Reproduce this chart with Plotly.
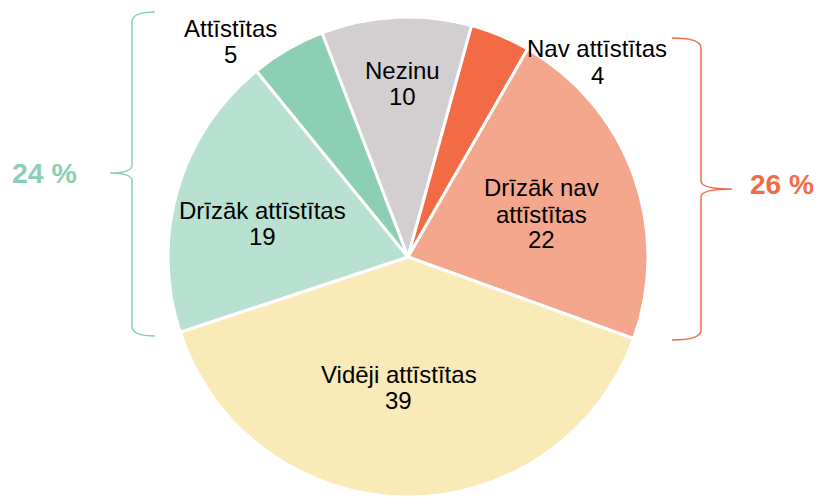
import plotly.graph_objects as go

categories = ["Nezinu", "Nav attīstītas", "Drīzāk nav attīstītas", "Vidēji attīstītas",
              "Drīzāk attīstītas", "Attīstītas"]
label_lines = [["Nezinu"], ["Nav attīstītas"], ["Drīzāk nav", "attīstītas"], ["Vidēji attīstītas"],
               ["Drīzāk attīstītas"], ["Attīstītas"]]
values = [10, 4, 22, 39, 19, 5]
colors = ["#d3cfd0", "#f26b44", "#f5a78e", "#f9eab8", "#b8e1d2", "#8ccfb4"]
group_labels = ["24 %", "26 %"]
group_colors = ["#8ccfb4", "#f26b44"]

W, H = 821, 497
OFF = 8  # page offset of the figure in the browser
FONT = "Liberation Sans, Arial, sans-serif"


def px(x):
    return (x - OFF) / W


def py(y):
    return 1 - (y - OFF) / H


# pie geometry (screen pixels)
CX, CY, R = 408, 257, 240

fig = go.Figure()
fig.add_trace(go.Pie(
    labels=categories, values=values, textinfo="none",
    sort=False, direction="clockwise", rotation=-21,
    marker=dict(colors=colors, line=dict(color="white", width=3)),
    domain=dict(x=[px(CX - R), px(CX + R)], y=[py(CY + R), py(CY - R)]),
    hoverinfo="label+value", showlegend=False,
))

# label anchor positions (screen pixels): x center, y of first line
label_pos = [(402, 70), (597, 49), (541, 188), (398.5, 374), (262.5, 210), (230, 29)]
STEP = 26

annotations = []
for lines, v, (lx, ly) in zip(label_lines, values, label_pos):
    for i, t in enumerate(lines + [str(v)]):
        annotations.append(dict(
            x=px(lx), y=py(ly + i * STEP), text=t, showarrow=False,
            xanchor="center", yanchor="middle", xref="paper", yref="paper",
            font=dict(family=FONT, size=24, color="black")))

annotations += [
    dict(x=px(44), y=py(172.5), text=f"<b>{group_labels[0]}</b>", showarrow=False,
         xanchor="center", yanchor="middle",
         font=dict(family=FONT, size=28.5, color=group_colors[0]), xref="paper", yref="paper"),
    dict(x=px(781.5), y=py(184.5), text=f"<b>{group_labels[1]}</b>", showarrow=False,
         xanchor="center", yanchor="middle",
         font=dict(family=FONT, size=28, color=group_colors[1]), xref="paper", yref="paper"),
]


def P(x, y):
    return f"{px(x):.5f},{py(y):.5f}"


left_path = ("M " + P(155, 12) + " Q " + P(132, 12) + " " + P(132, 22) +
             " L " + P(132, 165) + " Q " + P(132, 173) + " " + P(110, 173) +
             " Q " + P(132, 173) + " " + P(132, 181) +
             " L " + P(132, 326) + " Q " + P(132, 336) + " " + P(155, 336))
right_path = ("M " + P(672, 38) + " Q " + P(701, 38) + " " + P(701, 48) +
              " L " + P(701, 181) + " Q " + P(701, 189) + " " + P(732, 189) +
              " Q " + P(701, 189) + " " + P(701, 197) +
              " L " + P(701, 330) + " Q " + P(701, 340) + " " + P(672, 340))

shapes = [
    dict(type="path", path=left_path, xref="paper", yref="paper",
         line=dict(color=group_colors[0], width=1.5)),
    dict(type="path", path=right_path, xref="paper", yref="paper",
         line=dict(color=group_colors[1], width=1.5)),
]

fig.update_layout(
    width=W, height=H, margin=dict(l=0, r=0, t=0, b=0),
    paper_bgcolor="white", plot_bgcolor="white",
    annotations=annotations, shapes=shapes,
    font=dict(family=FONT),
)
fig.write_html("out.html")
